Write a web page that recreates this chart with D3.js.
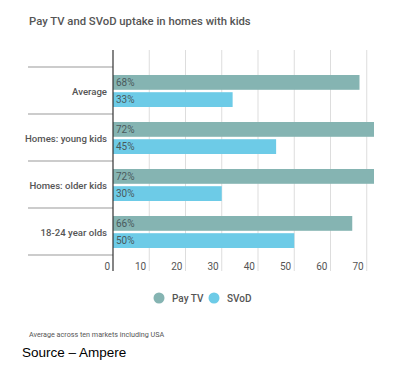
<!DOCTYPE html>
<html><head><meta charset="utf-8">
<script src="https://cdn.jsdelivr.net/npm/d3@7"></script>
<style>body{margin:0;background:#fff}svg{display:block}</style>
</head><body>
<svg id="c" width="400" height="379"></svg>
<script>
const categories = ["Average", "Homes: young kids", "Homes: older kids", "18-24 year olds"];
const payTV = [68, 72, 72, 66];
const svod = [33, 45, 30, 50];
const seriesNames = ["Pay TV", "SVoD"];
const xTicks = [0, 10, 20, 30, 40, 50, 60, 70];
const colors = ["#85b4b2", "#6dcbe7"];

const svg = d3.select("#c");
const font = "Roboto, 'Open Sans', sans-serif";
const x = d3.scaleLinear().domain([0, 72]).range([113, 374]);
const y = d3.scaleBand().domain(categories).range([67, 255]);
const inner = d3.scaleBand().domain(seriesNames).range([8, y.bandwidth() - 7]).paddingInner(0.14);

svg.append("text").attr("x", 29).attr("y", 25).text("Pay TV and SVoD uptake in homes with kids")
  .attr("font-family", font).attr("font-size", 11.3).attr("font-weight", 500).attr("fill", "#555");

// grid
svg.append("g").selectAll("line").data(xTicks.slice(1)).join("line")
  .attr("x1", d => x(d)).attr("x2", d => x(d)).attr("y1", 50).attr("y2", 271)
  .attr("stroke", "#ddd").attr("stroke-width", 1);

// row separators
svg.append("g").selectAll("line").data([...categories.map(c => y(c)), 255]).join("line")
  .attr("x1", 28).attr("x2", 113).attr("y1", d => d).attr("y2", d => d)
  .attr("stroke", "#999").attr("stroke-width", 1);

// category labels
svg.append("g").selectAll("text").data(categories).join("text")
  .attr("x", 107).attr("y", d => y(d) + y.bandwidth() / 2 + 4).attr("text-anchor", "end")
  .text(d => d).attr("font-family", font).attr("font-size", 9.6).attr("font-weight", 500).attr("fill", "#555");

// bars
const rows = categories.map((c, i) => [{c, s: seriesNames[0], v: payTV[i]}, {c, s: seriesNames[1], v: svod[i]}]).flat();
const g = svg.append("g");
g.selectAll("rect").data(rows).join("rect")
  .attr("x", x(0)).attr("y", d => y(d.c) + inner(d.s)).attr("width", d => x(d.v) - x(0))
  .attr("height", inner.bandwidth()).attr("fill", d => colors[seriesNames.indexOf(d.s)]);
g.selectAll("text").data(rows).join("text")
  .attr("x", x(0) + 3).attr("y", d => y(d.c) + inner(d.s) + inner.bandwidth() / 2 + 3.5)
  .text(d => d.v + "%").attr("font-family", font).attr("font-size", 10).attr("fill", "#4a5a5c");

// zero axis
svg.append("line").attr("x1", x(0)).attr("x2", x(0)).attr("y1", 50).attr("y2", 271)
  .attr("stroke", "#333").attr("stroke-width", 1.2);

// tick labels
svg.append("g").selectAll("text").data(xTicks).join("text")
  .attr("x", d => x(d) - 3).attr("y", 270).attr("text-anchor", "end").text(d => d)
  .attr("font-family", font).attr("font-size", 10).attr("fill", "#555");

// legend
const leg = [{n: seriesNames[0], cx: 159, tx: 172}, {n: seriesNames[1], cx: 214, tx: 227}];
const lg = svg.append("g");
lg.selectAll("circle").data(leg).join("circle").attr("cx", d => d.cx).attr("cy", 298).attr("r", 5.5)
  .attr("fill", (d, i) => colors[i]);
lg.selectAll("text").data(leg).join("text").attr("x", d => d.tx).attr("y", 301.5).text(d => d.n)
  .attr("font-family", font).attr("font-size", 10).attr("font-weight", 500).attr("fill", "#555");

svg.append("text").attr("x", 29).attr("y", 337).text("Average across ten markets including USA")
  .attr("font-family", font).attr("font-size", 7.2).attr("fill", "#555");
svg.append("text").attr("x", 22).attr("y", 357).text("Source – Ampere")
  .attr("font-family", "Liberation Sans, Arial, sans-serif").attr("font-size", 13.5).attr("fill", "#000");
</script>
</body></html>
